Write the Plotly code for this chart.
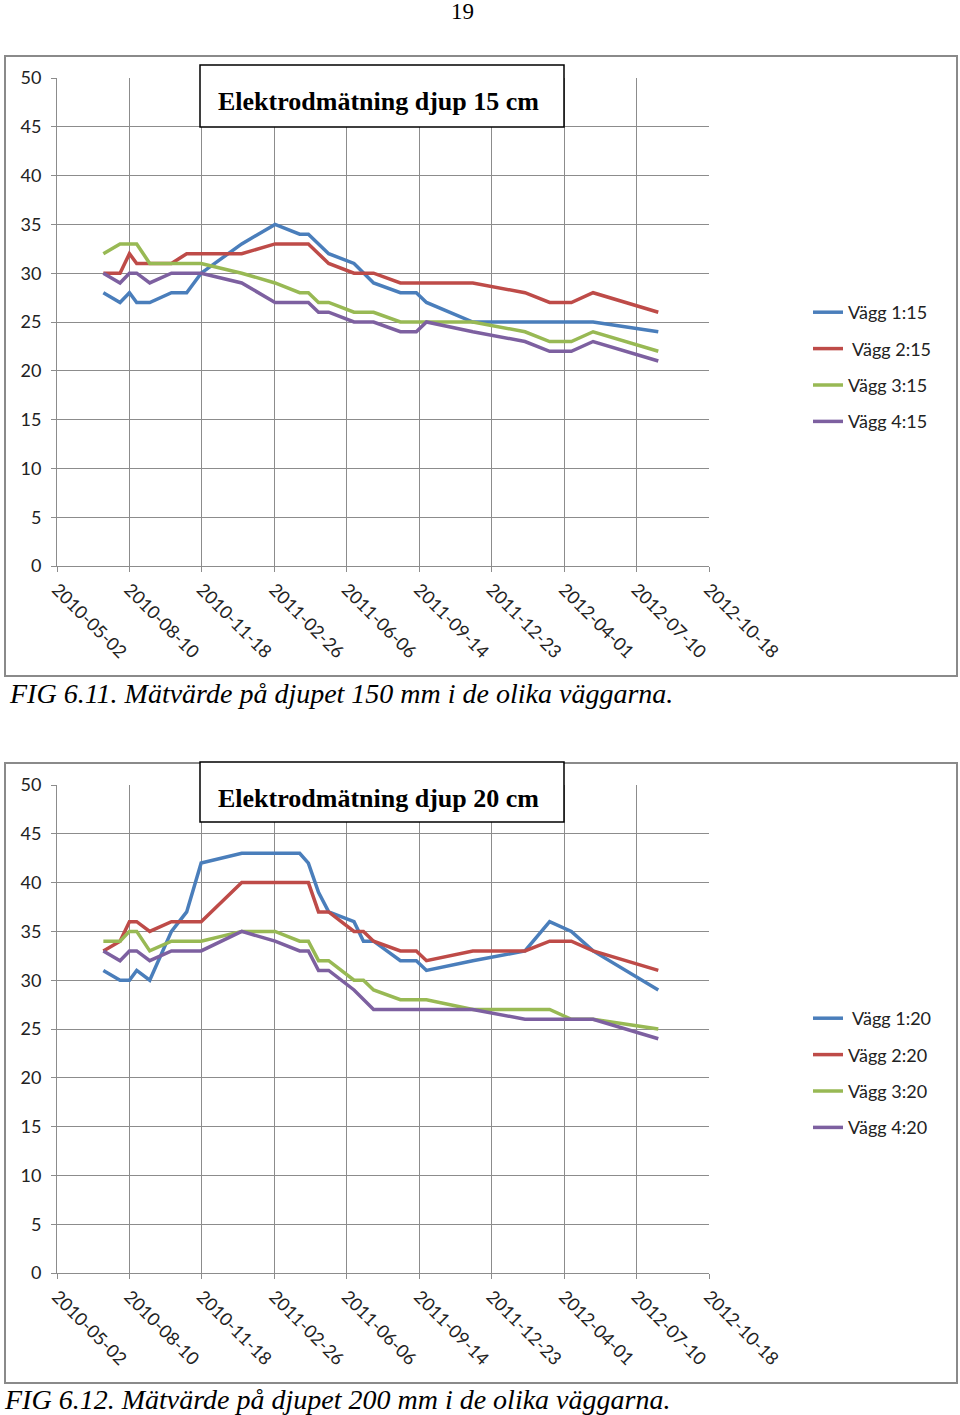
import plotly.graph_objects as go

# ---- data ----
dates = ["2010-07-05", "2010-07-28", "2010-08-10", "2010-08-20", "2010-09-07",
         "2010-10-07", "2010-10-28", "2010-11-17", "2011-01-12", "2011-02-27",
         "2011-04-02", "2011-04-14", "2011-04-28", "2011-05-12", "2011-06-16",
         "2011-06-29", "2011-07-13", "2011-08-19", "2011-09-10", "2011-09-24",
         "2011-11-27", "2012-02-07", "2012-03-12", "2012-04-11", "2012-05-11",
         "2012-08-09"]

v1_15 = [28, 27, 28, 27, 27, 28, 28, 30, 33, 35, 34, 34, 33, 32, 31, 30, 29, 28, 28, 27, 25, 25, 25, 25, 25, 24]
v2_15 = [30, 30, 32, 31, 31, 31, 32, 32, 32, 33, 33, 33, 32, 31, 30, 30, 30, 29, 29, 29, 29, 28, 27, 27, 28, 26]
v3_15 = [32, 33, 33, 33, 31, 31, 31, 31, 30, 29, 28, 28, 27, 27, 26, 26, 26, 25, 25, 25, 25, 24, 23, 23, 24, 22]
v4_15 = [30, 29, 30, 30, 29, 30, 30, 30, 29, 27, 27, 27, 26, 26, 25, 25, 25, 24, 24, 25, 24, 23, 22, 22, 23, 21]

v1_20 = [31, 30, 30, 31, 30, 35, 37, 42, 43, 43, 43, 42, 39, 37, 36, 34, 34, 32, 32, 31, 32, 33, 36, 35, 33, 29]
v2_20 = [33, 34, 36, 36, 35, 36, 36, 36, 40, 40, 40, 40, 37, 37, 35, 35, 34, 33, 33, 32, 33, 33, 34, 34, 33, 31]
v3_20 = [34, 34, 35, 35, 33, 34, 34, 34, 35, 35, 34, 34, 32, 32, 30, 30, 29, 28, 28, 28, 27, 27, 27, 26, 26, 25]
v4_20 = [33, 32, 33, 33, 32, 33, 33, 33, 35, 34, 33, 33, 31, 31, 29, 28, 27, 27, 27, 27, 27, 26, 26, 26, 26, 24]

names_15 = ["Vägg 1:15", " Vägg 2:15", "Vägg 3:15", "Vägg 4:15"]
names_20 = [" Vägg 1:20", "Vägg 2:20", "Vägg 3:20", "Vägg 4:20"]

tick_labels = ["2010-05-02", "2010-08-10", "2010-11-18", "2011-02-26", "2011-06-06",
               "2011-09-14", "2011-12-23", "2012-04-01", "2012-07-10", "2012-10-18"]
y_ticks = [0, 5, 10, 15, 20, 25, 30, 35, 40, 45, 50]

title_15 = "Elektrodmätning djup 15 cm"
title_20 = "Elektrodmätning djup 20 cm"
caption_15 = "FIG 6.11. Mätvärde på djupet 150 mm i de olika väggarna."
caption_20 = "FIG 6.12. Mätvärde på djupet 200 mm i de olika väggarna."
page_no = "19"

colors = ["#4A7EBB", "#BE4B48", "#98B954", "#7D60A0"]

# ---- figure ----
W, H = 960, 1415
def px_x(x):
    return x / W
def px_y(y):
    return 1 - y / H

fig = go.Figure()

for i, (vals, nm) in enumerate(zip([v1_15, v2_15, v3_15, v4_15], names_15)):
    fig.add_trace(go.Scatter(x=dates, y=vals, mode="lines", name=nm,
                             line=dict(color=colors[i], width=3.5),
                             xaxis="x", yaxis="y", legend="legend",
                             legendgroup="a%d" % i, hoverinfo="x+y"))
for i, (vals, nm) in enumerate(zip([v1_20, v2_20, v3_20, v4_20], names_20)):
    fig.add_trace(go.Scatter(x=dates, y=vals, mode="lines", name=nm,
                             line=dict(color=colors[i], width=3.5),
                             xaxis="x2", yaxis="y2", legend="legend2",
                             legendgroup="b%d" % i, hoverinfo="x+y"))

tickfont = dict(family="Lato, Open Sans, sans-serif", size=18, color="#222222")
grid = "#8C8C8C"

xcommon = dict(type="date", range=[tick_labels[0], tick_labels[-1]],
               tickvals=tick_labels, ticktext=tick_labels, tickangle=45,
               showgrid=True, gridcolor=grid, gridwidth=1,
               showline=True, linecolor=grid, linewidth=1,
               ticks="outside", ticklen=5, tickcolor=grid,
               tickfont=tickfont, zeroline=False, automargin=False,
               domain=[px_x(57), px_x(709)])
ycommon = dict(range=[0, 50], tickvals=y_ticks,
               showgrid=True, gridcolor=grid, gridwidth=1,
               showline=True, linecolor=grid, linewidth=1,
               ticks="outside", ticklen=5, tickcolor=grid,
               tickfont=tickfont, zeroline=False, ticklabelstandoff=6,
               automargin=False)

legfont = dict(family="Lato, Open Sans, sans-serif", size=18, color="#222222")

fig.update_layout(
    width=W, height=H, autosize=False,
    margin=dict(l=0, r=0, t=0, b=0, pad=0, autoexpand=False),
    paper_bgcolor="white", plot_bgcolor="rgba(0,0,0,0)",
    xaxis=dict(xcommon, anchor="y"),
    yaxis=dict(ycommon, anchor="x", domain=[px_y(566), px_y(78)]),
    xaxis2=dict(xcommon, anchor="y2"),
    yaxis2=dict(ycommon, anchor="x2", domain=[px_y(1273), px_y(785)]),
    legend=dict(x=px_x(808), y=px_y(294), xanchor="left", yanchor="top",
                font=legfont, traceorder="grouped", tracegroupgap=10,
                bgcolor="rgba(0,0,0,0)"),
    legend2=dict(x=px_x(808), y=px_y(1000), xanchor="left", yanchor="top",
                 font=legfont, traceorder="grouped", tracegroupgap=10,
                 bgcolor="rgba(0,0,0,0)"),
    showlegend=True,
)

# outer chart frames
for (y0, y1) in [(56, 676), (763, 1383)]:
    fig.add_shape(type="rect", xref="paper", yref="paper",
                  x0=px_x(5), x1=px_x(957), y0=px_y(y1), y1=px_y(y0),
                  line=dict(color="#8A8A8A", width=2), fillcolor="rgba(0,0,0,0)",
                  layer="below")

# title boxes
serif = "Liberation Serif, Times New Roman, serif"
for (y0, y1, txt) in [(65, 127, title_15), (762, 822, title_20)]:
    fig.add_shape(type="rect", xref="paper", yref="paper",
                  x0=px_x(200), x1=px_x(564), y0=px_y(y1), y1=px_y(y0),
                  line=dict(color="black", width=1.5), fillcolor="white",
                  layer="above")
    fig.add_annotation(xref="paper", yref="paper", x=px_x(378), y=px_y((y0 + y1) / 2 + 6),
                       text="<b>" + txt + "</b>", showarrow=False,
                       xanchor="center", yanchor="middle",
                       font=dict(family=serif, size=26, color="black"))

# captions
fig.add_annotation(xref="paper", yref="paper", x=px_x(7), y=px_y(693),
                   text="<i>" + caption_15 + "</i>", showarrow=False,
                   xanchor="left", yanchor="middle",
                   font=dict(family=serif, size=28, color="black"))
fig.add_annotation(xref="paper", yref="paper", x=px_x(2), y=px_y(1399),
                   text="<i>" + caption_20 + "</i>", showarrow=False,
                   xanchor="left", yanchor="middle",
                   font=dict(family=serif, size=28, color="black"))
# page number
fig.add_annotation(xref="paper", yref="paper", x=px_x(462), y=px_y(12),
                   text=page_no, showarrow=False,
                   xanchor="center", yanchor="middle",
                   font=dict(family=serif, size=23, color="black"))

fig.write_html("out.html", config={"displayModeBar": False},
               post_script="document.body.style.margin='0px';document.body.style.padding='0px';")
